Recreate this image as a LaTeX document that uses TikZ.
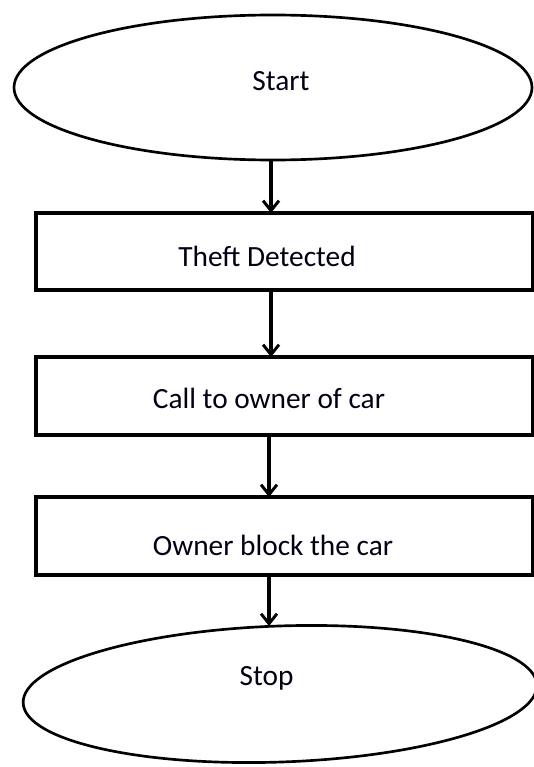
\documentclass[tikz,border=0pt]{standalone}
\usepackage{fontspec}
\setmainfont{Carlito}
\usetikzlibrary{shapes.geometric,arrows.meta}
\begin{document}
\begin{tikzpicture}[x=0.75pt,y=-0.75pt,
  oval/.style={draw=black,line width=2pt,ellipse,inner sep=0pt,outer sep=0pt},
  stepbox/.style={draw=black,line width=2.5pt,rectangle,inner sep=0pt,outer sep=0pt,minimum width=372.75pt},
  lbl/.style={anchor=base,inner sep=0pt,font=\fontsize{22}{26}\selectfont,text=black!92!blue},
  arr/.style={line width=2.4pt,-{Straight Barb[length=7.5pt,width=12pt,line width=2.2pt]}}]
\useasboundingbox (0,0) rectangle (534,767);
\fill[white] (0,0) rectangle (534,767);
\node[oval,minimum width=388.5pt,minimum height=108.75pt] (start) at (273,87.5) {};
\node[stepbox,minimum height=57.75pt] (b1) at (284.5,251.5) {};
\node[stepbox,minimum height=58.5pt] (b2) at (284.5,396) {};
\node[stepbox,minimum height=58.5pt] (b3) at (284.5,536) {};
\node[oval,minimum width=385.5pt,minimum height=102pt,rotate=2] (stop) at (280,694) {};
\node[lbl] (tstart) at (281,90) {Start};
\node[lbl] (t1) at (267,266.5) {Theft Detected};
\node[lbl] (t2) at (269,408) {Call to owner of car};
\node[lbl] (t3) at (273,555) {Owner block the car};
\node[lbl] (tstop) at (266.5,685) {Stop};
\coordinate (ax1) at (271,0);
\coordinate (ax2) at (271,0);
\coordinate (ax3) at (269,0);
\coordinate (ax4) at (269,0);
\draw[arr] (start.south -| ax1) -- (b1.north -| ax1);
\draw[arr] (b1.south -| ax2) -- (b2.north -| ax2);
\draw[arr] (b2.south -| ax3) -- (b3.north -| ax3);
\draw[arr] (b3.south -| ax4) -- (stop.north -| ax4);
\end{tikzpicture}
\end{document}
